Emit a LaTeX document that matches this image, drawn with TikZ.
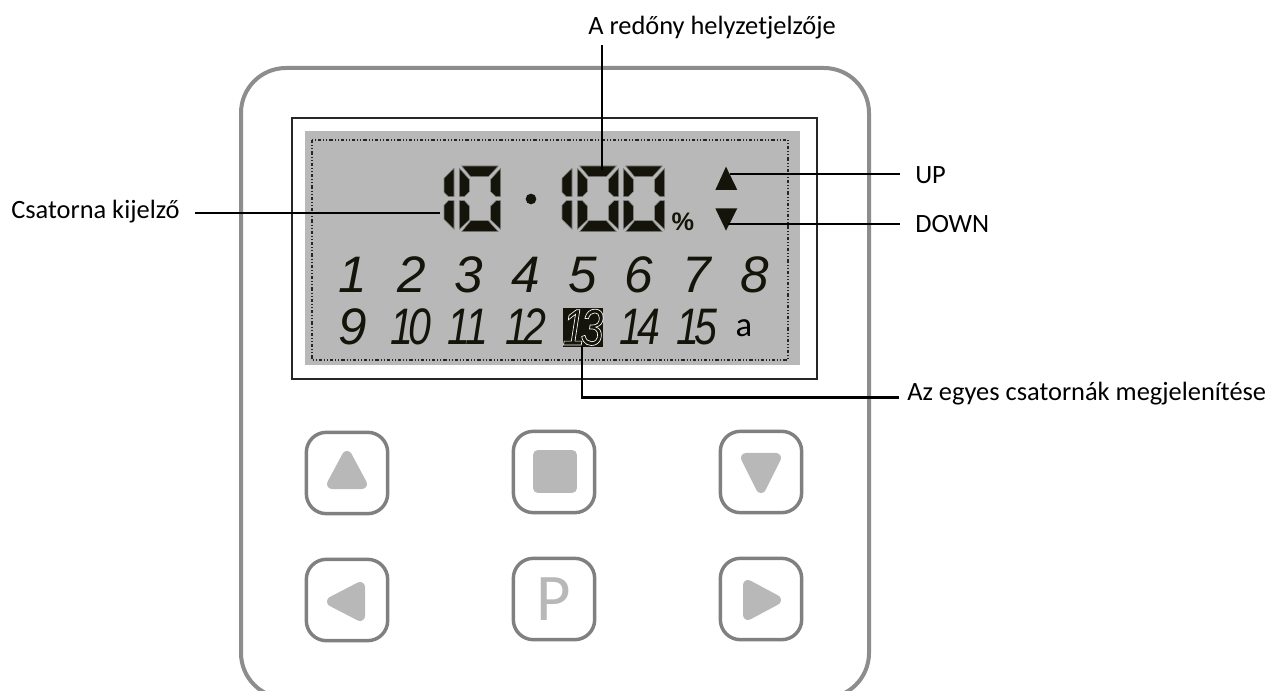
\documentclass[tikz,border=0pt]{standalone}
\usepackage{fontspec}
\setmainfont{Carlito}
\newfontfamily\digf{Liberation Sans}
\newfontfamily\digs{Liberation Sans}[FakeStretch=0.8]
\definecolor{lcd}{HTML}{B8B8B8}
\definecolor{seg}{HTML}{14140A}
\definecolor{edge}{HTML}{808080}
\definecolor{ico}{HTML}{B8B8B8}
\newcommand{\mydig}[1]{{\fontsize{38.5}{38.5}\digf\itshape #1}}
\newcommand{\mytwo}[2]{{\fontsize{38.5}{38.5}\digs\itshape #1\kern-.09em #2}}
\newcommand{\digitzero}[1]{%
 \begin{scope}[shift={(#1,0)}]
 \fill[segf] (125,108)--(235,108)--(205,140)--(152,140)--cycle;
 \fill[segf] (118,115)--(148,148)--(148,185)--(133,200)--(118,200)--cycle;
 \fill[segf] (242,115)--(242,200)--(228,200)--(212,185)--(212,148)--cycle;
 \fill[segf] (118,212)--(133,212)--(148,228)--(148,270)--(118,298)--cycle;
 \fill[segf] (242,212)--(242,298)--(212,270)--(212,228)--(228,212)--cycle;
 \fill[segf] (152,272)--(205,272)--(235,305)--(125,305)--cycle;
 \end{scope}}
\newcommand{\digitone}[1]{%
 \begin{scope}[shift={(#1,0)}]
 \fill[segf] (102,115)--(102,200)--(85,200)--(72,187)--(72,145)--cycle;
 \fill[segf] (85,212)--(102,212)--(102,298)--(72,268)--(72,226)--cycle;
 \end{scope}}
\tikzset{
 x=0.75pt,y=-0.75pt,
 segf/.style={fill=seg,draw=edge,line width=0.4pt},
 leader/.style={draw=black,line width=1.9pt},
 lbl/.style={font=\fontsize{19.8}{19.8}\selectfont,inner sep=0pt,text=black,anchor=base west},
 num/.style={inner sep=0pt,text=seg,anchor=base},
 btn/.style={draw=edge,line width=2.6pt,rounded corners=15pt,minimum size=61pt,inner sep=0pt,fill=white},
 icon/.style={fill=ico,draw=ico,line width=7.5pt,line join=round},
}
\begin{document}
\begin{tikzpicture}
\useasboundingbox (0,0) rectangle (1271,691);
\clip (0,0) rectangle (1271,691);
\fill[white] (0,0) rectangle (1271,691);
% body
\draw[edge!90!white,line width=3pt,rounded corners=33.75pt] (241,68) rectangle (869,698);
% display
\draw[draw=black!85,line width=1pt] (292,118) rectangle (817,379);
\fill[lcd] (305,131) rectangle (800,365);
\draw[black!85,line width=0.8pt,dash pattern=on 2.4pt off 1.5pt on 0.8pt off 1.5pt on 0.8pt off 1.5pt] (312,140) rectangle (788,360);
% segments
\begin{scope}[shift={(420,130)},scale=1/3]
 \digitone{0}
 \digitzero{0}
 \digitone{354}
 \digitzero{354}
 \digitzero{492}
 \fill[seg] (333,207) circle (12pt);
 \fill[seg] (918,110)--(952,180)--(886,180)--cycle;
 \fill[seg] (886,235)--(952,235)--(918,302)--cycle;
\end{scope}
\node[inner sep=0pt,text=seg] (pct) at (683,222) {\fontsize{19}{19}\digf\bfseries\%};
% numbers
\node[num] (n1) at (353,293) {\mydig{1}};
\node[num] (n2) at (412,293) {\mydig{2}};
\node[num] (n3) at (469,293) {\mydig{3}};
\node[num] (n4) at (526,293) {\mydig{4}};
\node[num] (n5) at (583,293) {\mydig{5}};
\node[num] (n6) at (639,293) {\mydig{6}};
\node[num] (n7) at (697,293) {\mydig{7}};
\node[num] (n8) at (755,293) {\mydig{8}};
\node[num] (n9) at (353,345) {\mydig{9}};
\node[num] (n10) at (411,345) {\mytwo{1}{0}};
\node[num] (n11) at (468,345) {\mytwo{1}{1}};
\node[num] (n12) at (526,345) {\mytwo{1}{2}};
\node[fill=seg,minimum width=30pt,minimum height=29.5pt,inner sep=0pt] (n13box) at (583,327.5) {};
\node[inner sep=0pt,anchor=base] (n13) at (583,345) {\special{pdf:code q 1 Tr 0.5 w 1 1 1 RG}\mytwo{1}{3}\special{pdf:code Q}};
\node[num] (n14) at (640,345) {\mytwo{1}{4}};
\node[num] (n15) at (697,345) {\mytwo{1}{5}};
\node[inner sep=0pt,text=black,anchor=base] (na) at (744,337) {\fontsize{26}{26}\selectfont a};
% labels
\node[lbl] (lTop) at (588,35) {A redőny helyzetjelzője};
\node[lbl] (lCh) at (11,219) {Csatorna kijelző};
\node[lbl] (lUp) at (915,184) {UP};
\node[lbl] (lDown) at (915,233) {DOWN};
\node[lbl] (lAll) at (907,401) {Az egyes csatornák megjelenítése};
% leaders
\coordinate (cTopA) at (602,45);
\coordinate (cTopB) at (602,170);
\coordinate (cChA) at (195,213);
\coordinate (cChB) at (440,213);
\coordinate (cUpA) at (900,174);
\coordinate (cUpB) at (730,174);
\coordinate (cDnA) at (900,224);
\coordinate (cDnB) at (728,224);
\coordinate (cAllA) at (899,397.5);
\coordinate (cAllB) at (582,346);
\draw[leader] (cTopA) -- (cTopB);
\draw[leader] (cChA) -- (cChB);
\draw[leader] (cUpA) -- (cUpB);
\draw[leader] (cDnA) -- (cDnB);
\draw[leader] (cAllA) -| (cAllB);
% buttons
\node[btn] (bUp) at (347,473) {};
\node[btn] (bStop) at (554,472) {};
\node[btn] (bDown) at (761,472) {};
\node[btn] (bLeft) at (347,600) {};
\node[btn] (bP) at (554,599) {\fontsize{50}{50}\selectfont\textcolor{ico}{P}};
\node[btn] (bRight) at (761,599) {};
\path[icon] (347,456)--(332,484)--(362,484)--cycle;
\path[icon] (538,455) rectangle (572,488);
\path[icon] (761,488)--(746,458)--(776,458)--cycle;
\path[icon] (332,601.5)--(360,587)--(360,616)--cycle;
\path[icon] (776,600)--(748,585)--(748,615)--cycle;
\end{tikzpicture}
\end{document}
